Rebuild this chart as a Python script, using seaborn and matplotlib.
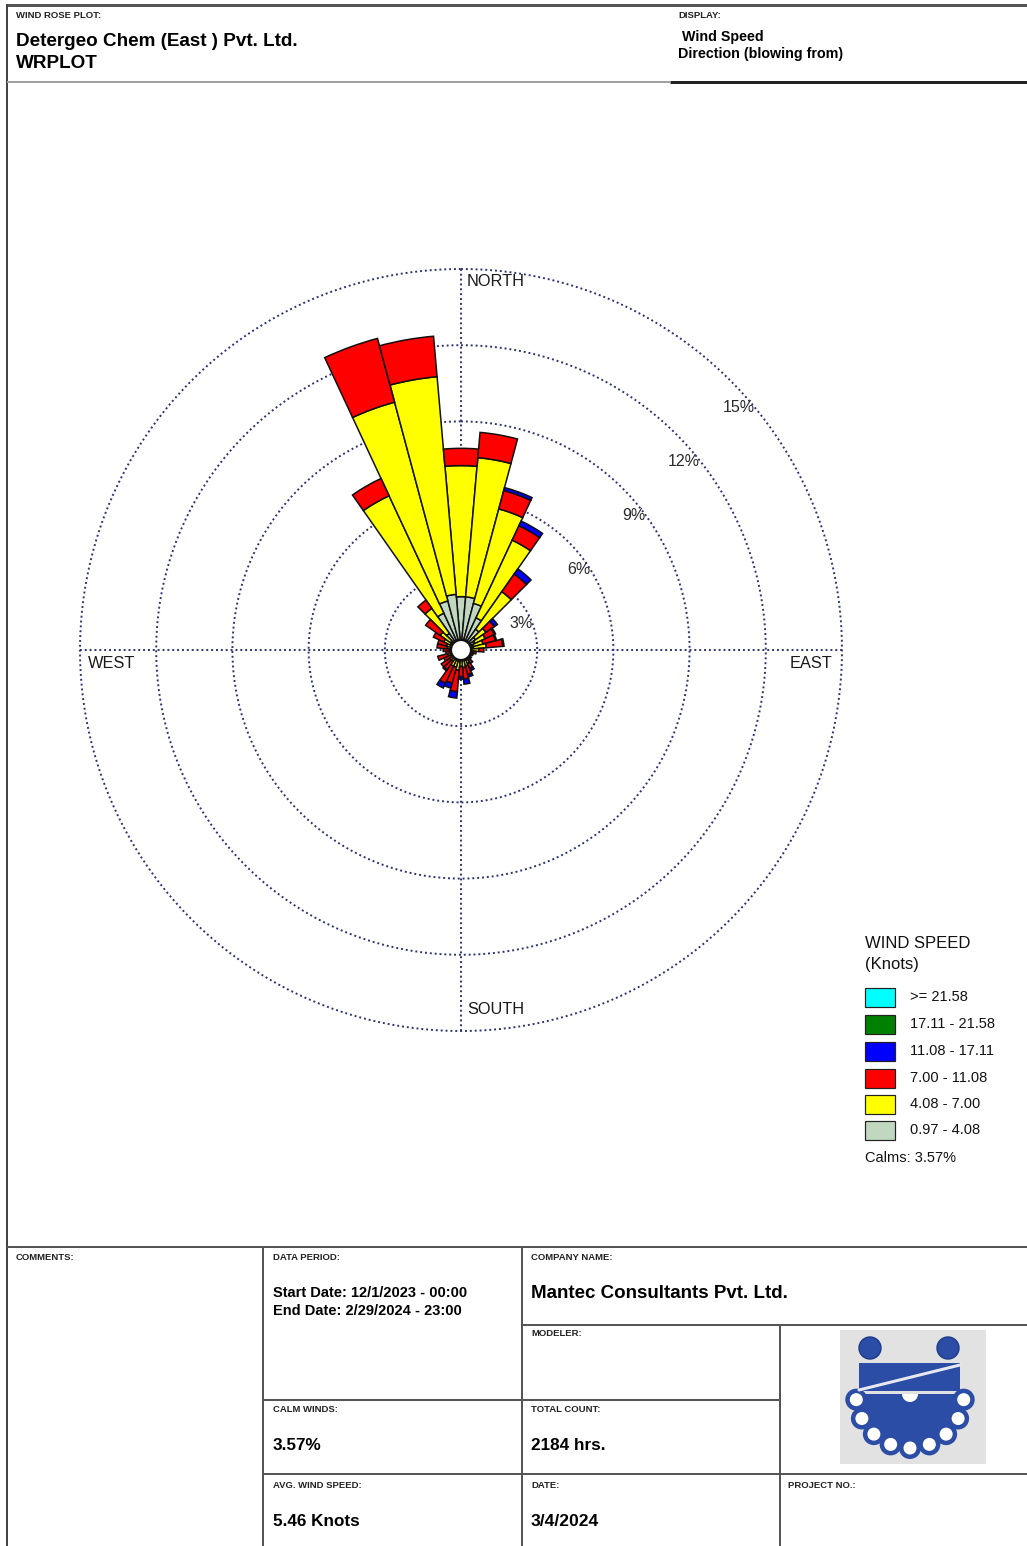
import numpy as np
import matplotlib
matplotlib.use("Agg")
import matplotlib.pyplot as plt
from matplotlib.patches import Rectangle, Circle, Polygon, Wedge
import seaborn as sns

# ---------------------------------------------------------------- data
directions = np.arange(0, 360, 10)  # degrees, direction wind is blowing from

speed_bins = ["0.97 - 4.08", "4.08 - 7.00", "7.00 - 11.08",
              "11.08 - 17.11", "17.11 - 21.58", ">= 21.58"]

# frequency (%) per direction for each speed class
freq_097_408 = [2.10, 2.10, 1.90, 1.40, 1.00, 0.70, 0.60, 0.50, 0.50, 0.40, 0.35, 0.30,
                0.30, 0.30, 0.35, 0.40, 0.40, 0.40, 0.40, 0.45, 0.40, 0.40, 0.35, 0.35,
                0.30, 0.35, 0.30, 0.30, 0.35, 0.40, 0.45, 0.50, 0.80, 1.60, 2.00, 2.20]
freq_408_700 = [5.16, 5.50, 3.85, 3.37, 1.80, 0.50, 0.45, 0.40, 0.50, 0.30, 0.15, 0.10,
                0.10, 0.10, 0.15, 0.20, 0.25, 0.30, 0.25, 0.35, 0.30, 0.30, 0.20, 0.20,
                0.15, 0.20, 0.10, 0.15, 0.20, 0.20, 0.30, 0.50, 1.20, 5.10, 8.10, 8.60]
freq_700_1108 = [0.68, 1.00, 0.75, 0.63, 0.85, 0.40, 0.40, 0.50, 0.65, 0.20, 0.10, 0.10,
                 0.05, 0.10, 0.15, 0.20, 0.35, 0.45, 0.40, 0.85, 0.65, 0.75, 0.40, 0.40,
                 0.30, 0.40, 0.20, 0.25, 0.40, 0.35, 0.45, 0.70, 0.40, 0.75, 2.60, 1.60]
freq_1108_1711 = [0.00, 0.00, 0.12, 0.20, 0.25, 0.15, 0.05, 0.05, 0.05, 0.00, 0.00, 0.00,
                  0.00, 0.00, 0.00, 0.10, 0.10, 0.20, 0.10, 0.25, 0.20, 0.20, 0.05, 0.00,
                  0.00, 0.00, 0.00, 0.00, 0.00, 0.00, 0.00, 0.00, 0.00, 0.00, 0.00, 0.00]
freq_1711_2158 = [0.0] * 36
freq_ge_2158 = [0.0] * 36

ring_values = [3, 6, 9, 12, 15]
ring_labels = ["3%", "6%", "9%", "12%", "15%"]
calm_pct = 3.57

header_left = ["Detergeo Chem (East ) Pvt. Ltd.", "WRPLOT"]
header_right = ["Wind Speed", "Direction (blowing from)"]
start_date = "Start Date: 12/1/2023 - 00:00"
end_date = "End Date: 2/29/2024 - 23:00"
company = "Mantec Consultants Pvt. Ltd."
calm_text = "3.57%"
total_count = "2184 hrs."
avg_speed = "5.46 Knots"
plot_date = "3/4/2024"

# ---------------------------------------------------------------- style
sns.set_theme(style="white")
plt.rcParams["font.family"] = ["Liberation Sans", "DejaVu Sans"]
palette = sns.color_palette(["#C0D8C0", "#FFFF00", "#FF0000",
                             "#0000FF", "#008000", "#00FFFF"])
ring_color = "#2E3470"

W, H = 1027, 1546
fig = plt.figure(figsize=(W / 100, H / 100), dpi=100)
fig.patch.set_facecolor("white")

# page layer in pixel coordinates
page = fig.add_axes([0, 0, 1, 1])
page.set_xlim(0, W)
page.set_ylim(H, 0)
page.axis("off")

PX = 72 / 100  # points per pixel


def hline(y, x0, x1, color="#555555", lw=2):
    page.plot([x0, x1], [y, y], color=color, lw=lw * PX, solid_capstyle="butt")


def vline(x, y0, y1, color="#555555", lw=2):
    page.plot([x, x], [y0, y1], color=color, lw=lw * PX, solid_capstyle="butt")


# frame
hline(5, 7, W, "#555555", 3)
vline(7, 4, H, "#444444", 2)
hline(82, 7, 670, "#A0A0A0", 2)
hline(82, 670, W, "#222222", 3)
hline(1247, 7, W, "#555555", 2)
vline(263, 1247, H)
vline(522, 1247, H)
vline(780, 1325, H)
hline(1325, 522, W)
hline(1400, 263, 780)
hline(1474, 263, W)

small = dict(fontsize=6.8, fontweight="bold", color="#222222", va="center", ha="left")
page.text(16, 16, "WIND ROSE PLOT:", **small)
page.text(678, 16, "DISPLAY:", **small)
page.text(16, 41, header_left[0], fontsize=13.6, fontweight="bold", va="center", color="black")
page.text(16, 64, header_left[1], fontsize=13.6, fontweight="bold", va="center", color="black")
page.text(682, 37, header_right[0], fontsize=10.3, fontweight="bold", va="center", color="black")
page.text(678, 54, header_right[1], fontsize=10.3, fontweight="bold", va="center", color="black")

page.text(16, 1258, "COMMENTS:", **small)
page.text(273, 1258, "DATA PERIOD:", **small)
page.text(531, 1258, "COMPANY NAME:", **small)
page.text(531, 1334, "MODELER:", **small)
page.text(273, 1410, "CALM WINDS:", **small)
page.text(531, 1410, "TOTAL COUNT:", **small)
page.text(273, 1486, "AVG. WIND SPEED:", **small)
page.text(531, 1486, "DATE:", **small)
page.text(788, 1486, "PROJECT NO.:", **small)

val = dict(fontweight="bold", va="center", color="black")
page.text(273, 1293, start_date, fontsize=10.5, **val)
page.text(273, 1311, end_date, fontsize=10.5, **val)
page.text(531, 1293, company, fontsize=13.5, **val)
page.text(273, 1446, calm_text, fontsize=12.3, **val)
page.text(531, 1446, total_count, fontsize=12.3, **val)
page.text(273, 1522, avg_speed, fontsize=12.3, **val)
page.text(531, 1522, plot_date, fontsize=12.6, **val)

# legend
page.text(865, 944, "WIND SPEED", fontsize=12, va="center", color="#111111")
page.text(865, 965, "(Knots)", fontsize=12, va="center", color="#111111")
legend_y = [997, 1024, 1051, 1078, 1104, 1130]
for i, y in enumerate(legend_y):
    k = len(speed_bins) - 1 - i
    page.add_patch(Rectangle((865, y - 9.5), 30, 19, facecolor=palette[k],
                             edgecolor="#222222", lw=1.2 * PX))
    page.text(910, y, speed_bins[k], fontsize=10.5, va="center", color="#111111")
page.text(865, 1158, f"Calms: {calm_pct:.2f}%", fontsize=10.5, va="center", color="#111111")

# company logo
logo_blue = "#2C4DA5"
logo_dark = "#1C3A8A"
page.add_patch(Rectangle((840, 1330), 146, 134, facecolor="#E2E2E2", edgecolor="none"))
page.add_patch(Circle((870, 1348), 11, facecolor=logo_blue, edgecolor=logo_dark, lw=1))
page.add_patch(Circle((948, 1348), 11, facecolor=logo_blue, edgecolor=logo_dark, lw=1))
page.add_patch(Rectangle((859, 1363), 101, 28, facecolor=logo_blue, edgecolor="none"))
page.plot([859, 960], [1390, 1365], color="#E8E8F0", lw=3 * PX)
gcx, gcy = 910, 1394
page.add_patch(Wedge((gcx, gcy), 56, 0, 180, facecolor=logo_blue, edgecolor="none"))
for a in np.linspace(6, 174, 9):
    ar = np.deg2rad(a)
    px_, py_ = gcx + 54 * np.cos(ar), gcy + 54 * np.sin(ar)
    page.add_patch(Circle((px_, py_), 11, facecolor=logo_blue, edgecolor="none"))
    page.add_patch(Circle((px_, py_), 6.5, facecolor="white", edgecolor="none"))
page.add_patch(Wedge((gcx, gcy), 8, 0, 180, facecolor="white", edgecolor="none"))

# ---------------------------------------------------------------- wind rose
cx, cy, R = 461, 650, 381
ax = fig.add_axes([(cx - R) / W, (H - cy - R) / H, 2 * R / W, 2 * R / H],
                  projection="polar")
ax.set_facecolor("none")
ax.set_theta_zero_location("N")
ax.set_theta_direction(-1)
ax.set_ylim(0, 15)
ax.grid(False)
ax.set_xticks([])
ax.set_yticks([])
ax.spines["polar"].set_visible(False)

tt = np.linspace(0, 2 * np.pi, 721)
for rv in ring_values:
    ax.plot(tt, np.full_like(tt, rv), color=ring_color, lw=1.4,
            ls=(0, (1, 1.5)), clip_on=False, zorder=1)
for ang in (0, np.pi / 2, np.pi, 3 * np.pi / 2):
    ax.plot([ang, ang], [0, 15], color=ring_color, lw=1.4, ls=(0, (1, 1.5)),
            clip_on=False, zorder=1)

theta = np.deg2rad(directions)
width = np.deg2rad(10)
series = [freq_097_408, freq_408_700, freq_700_1108,
          freq_1108_1711, freq_1711_2158, freq_ge_2158]
bottom = np.zeros(len(directions))
for k, vals in enumerate(series):
    vals = np.asarray(vals, dtype=float)
    m = vals > 0
    if m.any():
        ax.bar(theta[m], vals[m], width=width, bottom=bottom[m],
               color=palette[k], edgecolor="#111111", linewidth=1.1, zorder=3)
    bottom += vals

# centre circle
ax.fill(tt, np.full_like(tt, 0.4), facecolor="white", edgecolor="#111111",
        lw=1.8, zorder=5)

# ring percentage labels
step = 27 / 25.4
for k, (rv, lab) in enumerate(zip(ring_values, ring_labels)):
    dy = (2 * k + 1) * step
    dx = np.sqrt(rv ** 2 - dy ** 2)
    ang = np.arctan2(dx, dy)
    ax.text(ang, rv, lab, ha="right", va="center", fontsize=11.5,
            color="#2A2A2A", zorder=6)

page.text(467, 282, "NORTH", fontsize=11.8, va="center", color="#1A1A1A")
page.text(467, 1010, "SOUTH", fontsize=11.8, va="center", color="#1A1A1A")
page.text(88, 663, "WEST", fontsize=11.8, va="center", color="#1A1A1A")
page.text(790, 663, "EAST", fontsize=11.8, va="center", color="#1A1A1A")

fig.savefig("out.png", dpi=100, facecolor="white")
